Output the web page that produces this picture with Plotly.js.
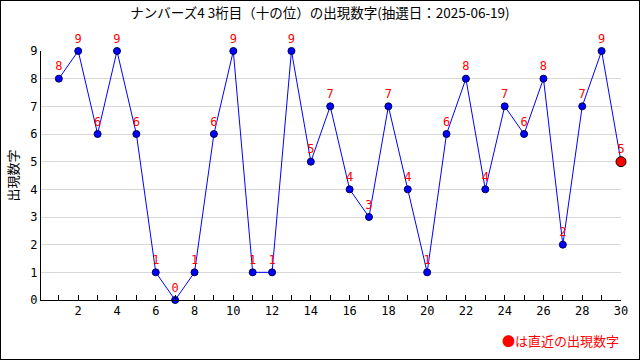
<!DOCTYPE html>
<html><head><meta charset="utf-8">
<script src="https://cdn.plot.ly/plotly-3.0.1.min.js"></script>
<style>
html,body{margin:0;padding:0;background:#fff;}
#wrap{width:640px;height:360px;box-sizing:border-box;border:1px solid #000;position:relative;}
#chart{width:638px;height:358px;}
</style></head>
<body><div id="wrap"><div id="chart"></div></div>
<script>
const draws = [1,2,3,4,5,6,7,8,9,10,11,12,13,14,15,16,17,18,19,20,21,22,23,24,25,26,27,28,29,30];
const digits = [8,9,6,9,6,1,0,1,6,9,1,1,9,5,7,4,3,7,4,1,6,8,4,7,6,8,2,7,9,5];
const titleText = "ナンバーズ4 3桁目（十の位）の出現数字(抽選日：2025-06-19)";
const yTitle = "出現数字";
const noteText = "●は直近の出現数字";
const xTicks = [2,4,6,8,10,12,14,16,18,20,22,24,26,28,30];
const yTicks = [0,1,2,3,4,5,6,7,8,9];

const font = "DejaVu Sans Mono, Noto Sans CJK JP, monospace";
const n = draws.length;
const traces = [
  {x: draws, y: digits, type:'scatter', mode:'lines+markers+text',
   line:{color:'#0000ff', width:1},
   marker:{color:'#0000ff', size:7, line:{color:'#000055', width:1}},
   text: digits.map(String), textposition:'top center',
   textfont:{color:'#ff0000', size:12, family:font},
   cliponaxis:false, hoverinfo:'none'},
  {x:[draws[n-1]], y:[digits[n-1]], type:'scatter', mode:'markers',
   marker:{color:'#ff0000', size:10, line:{color:'#000000', width:1}},
   cliponaxis:false, hoverinfo:'none'}
];
const layout = {
  width:638, height:358, showlegend:false,
  paper_bgcolor:'#fff', plot_bgcolor:'#fff',
  margin:{l:40, r:18, t:50, b:59},
  font:{family:font, size:12, color:'#000'},
  title:{text:titleText, x:0.5, xanchor:'center', y:0.966, yanchor:'middle',
         font:{family:"Noto Sans CJK JP, sans-serif", size:13.5, color:'#000'}},
  xaxis:{range:[0.08,30], tickvals:xTicks, ticks:'inside', ticklen:5, tickcolor:'#000',
         showgrid:false, zeroline:false, showline:true, linecolor:'#000', linewidth:1,
         minor:{dtick:1, tick0:1, ticks:'inside', ticklen:5, tickcolor:'#000', showgrid:false},
         tickfont:{size:12, family:font}, fixedrange:true},
  yaxis:{range:[0,9], tickvals:yTicks, ticks:'', showgrid:true, gridcolor:'#d8d8d8',
         zeroline:false, showline:true, linecolor:'#000', linewidth:1,
         tickfont:{size:12, family:font},
         title:{text:yTitle, font:{family:"Noto Sans CJK JP, sans-serif", size:13}, standoff:8},
         fixedrange:true},
  annotations:[{xref:'paper', yref:'paper', x:1, y:-0.115, xanchor:'right', yanchor:'top',
    text:noteText, showarrow:false,
    font:{color:'#ff0000', size:13, family:"Noto Sans CJK JP, sans-serif"}}]
};
Plotly.newPlot('chart', traces, layout, {displayModeBar:false, staticPlot:true});
</script></body></html>
